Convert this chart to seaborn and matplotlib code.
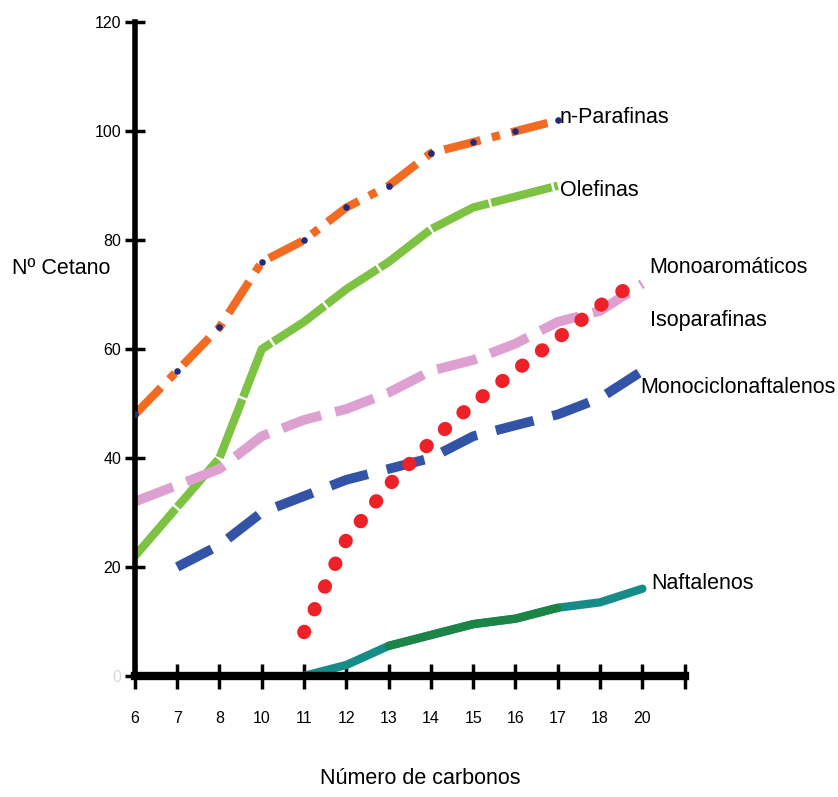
import numpy as np
import pandas as pd
import matplotlib
matplotlib.use("Agg")
import matplotlib.pyplot as plt
import seaborn as sns

carbonos = ["6", "7", "8", "10", "11", "12", "13", "14", "15", "16", "17", "18", "20"]

n_parafinas = [48, 56, 64, 76, 80, 86, 90, 96, 98, 100, 102, None, None]
olefinas = [22, 31, 40, 60, 65, 71, 76, 82, 86, 88, 90, None, None]
isoparafinas = [32, 35, 38, 44, 47, 49, 52, 56, 58, 61, 65, 67, 72]
monociclo = [None, 20, 24, 30, 33, 36, 38, 40, 44, 46, 48, 51, 56]
monoaromaticos = [None, None, None, None, 8, 25, 35, 43, 50, 56, 62, 68, 73]
naftalenos = [None, None, None, None, 0, 2, 5.5, 7.5, 9.5, 10.5, 12.5, 13.5, 16]

series = {
    "n-Parafinas": n_parafinas,
    "Olefinas": olefinas,
    "Isoparafinas": isoparafinas,
    "Monociclonaftalenos": monociclo,
    "Monoaromáticos": monoaromaticos,
    "Naftalenos": naftalenos,
}

rows = []
for name, vals in series.items():
    for i, v in enumerate(vals):
        if v is not None:
            rows.append({"serie": name, "pos": i, "cetano": v})
df = pd.DataFrame(rows)

sns.set_style("white")
plt.rcParams["font.family"] = ["Liberation Sans", "DejaVu Sans"]
plt.rcParams["text.color"] = "black"
plt.rcParams["xtick.color"] = "black"
plt.rcParams["ytick.color"] = "black"

fig = plt.figure(figsize=(8.38, 7.97), dpi=100)
ax = fig.add_axes([0.161, 0.152, 0.656, 0.82])

styles = {
    "n-Parafinas": dict(color="#F26B22", linestyle=(0, (4.5, 1.4, 1, 1.4)), linewidth=6),
    "Olefinas": dict(color="#7DC242", linestyle=(0, (7.5, 0.3)), linewidth=6),
    "Isoparafinas": dict(color="#DDA0D0", linestyle=(0, (4.2, 1.5)), linewidth=7),
    "Monociclonaftalenos": dict(color="#3353A6", linestyle=(0, (4, 2)), linewidth=7),
    "Monoaromáticos": dict(color="#EE2028", linestyle=(0, (0.05, 1.75)), linewidth=10,
                           dash_capstyle="round"),
    "Naftalenos": dict(color="#168C88", linestyle="-", linewidth=6),
}

for name, st in styles.items():
    d = df[df["serie"] == name]
    sns.lineplot(data=d, x="pos", y="cetano", ax=ax, **st)

# tramo central de Naftalenos en verde
d = df[(df["serie"] == "Naftalenos") & (df["pos"].between(6, 10))]
sns.lineplot(data=d, x="pos", y="cetano", ax=ax, color="#1C8444", linewidth=6)

d = df[df["serie"] == "n-Parafinas"]
ax.scatter(d["pos"], d["cetano"], s=14, color="#1F2A80", zorder=5)

ax.set_xlim(0, 13)
ax.set_ylim(0, 120)
ax.set_xticks(range(14))
ax.set_xticklabels(carbonos + [""], fontsize=11.5)
ax.set_yticks(range(0, 121, 20))
ax.set_yticklabels([str(v) for v in range(0, 121, 20)], fontsize=11.5)
ax.tick_params(bottom=True, left=True, direction="inout", length=18, width=2.5, color="black")
ax.tick_params(axis="x", pad=16)
ax.tick_params(axis="y", pad=3, length=14)
ax.get_yticklabels()[0].set_color("#d8d8d8")

for s in ["top", "right"]:
    ax.spines[s].set_visible(False)
ax.spines["left"].set_linewidth(4)
ax.spines["bottom"].set_linewidth(6)
for s in ["left", "bottom"]:
    ax.spines[s].set_color("black")

ax.set_xlabel("")
ax.set_ylabel("")
fig.text(420 / 838, 1 - 778 / 797, "Número de carbonos", fontsize=15.5, ha="center", va="center")
fig.text(12 / 838, 1 - 268 / 797, "Nº Cetano", fontsize=15.5, ha="left", va="center")

lab_font = dict(fontsize=15.5, va="center", ha="left")
ax.text(10.05, 102.6, "n-Parafinas", **lab_font)
ax.text(10.05, 89.2, "Olefinas", **lab_font)
ax.text(12.17, 75, "Monoaromáticos", **lab_font)
ax.text(12.17, 65.3, "Isoparafinas", **lab_font)
ax.text(11.95, 53, "Monociclonaftalenos", **lab_font)
ax.text(12.22, 17, "Naftalenos", **lab_font)

fig.savefig("out.png", dpi=100)
